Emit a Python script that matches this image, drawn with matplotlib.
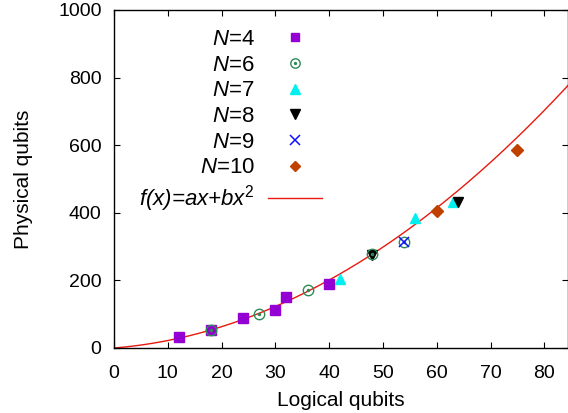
import numpy as np
import matplotlib
matplotlib.use("Agg")
import matplotlib.pyplot as plt
from matplotlib.legend_handler import HandlerTuple

plt.rcParams['font.family'] = ['Liberation Sans', 'DejaVu Sans']
plt.rcParams['mathtext.fontset'] = 'custom'
plt.rcParams['mathtext.rm'] = 'Liberation Sans'
plt.rcParams['mathtext.it'] = 'Liberation Sans:italic'

# data
x_n4 = [12, 18, 24, 30, 32, 40]
y_n4 = [33, 53, 90, 112, 152, 189]
x_n6 = [18, 27, 36, 48, 54]
y_n6 = [53, 100, 171, 277, 313]
x_n7 = [42, 56, 63]
y_n7 = [203, 384, 433]
x_n8 = [48, 64]
y_n8 = [276, 433]
x_n9 = [54]
y_n9 = [313]
x_n10 = [60, 75]
y_n10 = [406, 585]

# fit parameters of f(x) = a x + b x^2
a_fit = 1.27
b_fit = 0.094

x_ticks = [0, 10, 20, 30, 40, 50, 60, 70, 80]
y_ticks = [0, 200, 400, 600, 800, 1000]

fig = plt.figure(figsize=(5.68, 4.13), dpi=100)
ax = fig.add_axes([114 / 568, 1 - 348 / 413, (567.5 - 114) / 568, (348 - 10) / 413])

xf = np.linspace(0, 84.5, 300)
line_fit, = ax.plot(xf, a_fit * xf + b_fit * xf ** 2, color='#e8190f', lw=1.0, zorder=1)

h4, = ax.plot(x_n4, y_n4, ls='none', marker='s', ms=6.5, color='#9400d3', mec='#9400d3', zorder=3)
h6a, = ax.plot(x_n6, y_n6, ls='none', marker='o', ms=7.5, mfc='none', mec='#2e8b57', mew=1.0, zorder=4)
h6b, = ax.plot(x_n6, y_n6, ls='none', marker='o', ms=1.5, color='#2e8b57', zorder=4)
h7, = ax.plot(x_n7, y_n7, ls='none', marker='^', ms=7.5, color='#00f0f0', mec='#00f0f0', zorder=3)
h8, = ax.plot(x_n8, y_n8, ls='none', marker='v', ms=7.5, color='black', zorder=3)
h9, = ax.plot(x_n9, y_n9, ls='none', marker='x', ms=7.5, mew=1.1, color='#1010ff', zorder=5)
h10, = ax.plot(x_n10, y_n10, ls='none', marker='D', ms=6, color='#c04000', mec='#c04000', zorder=3)

ax.set_xlim(0, 84.3)
ax.set_ylim(0, 1000)
ax.set_xticks(x_ticks)
ax.set_yticks(y_ticks)
ax.tick_params(direction='in', top=True, right=True, length=4, width=0.8, labelsize=14)
ax.tick_params(axis='x', pad=12)
ax.tick_params(axis='y', pad=9)
for s in ax.spines.values():
    s.set_linewidth(1.0)

ax.set_xlabel('Logical qubits', fontsize=15, labelpad=7)
ax.set_ylabel('Physical qubits', fontsize=15, labelpad=18)

handles = [h4, (h6a, h6b), h7, h8, h9, h10, line_fit]
labels = [r'$N$=4', r'$N$=6', r'$N$=7', r'$N$=8', r'$N$=9', r'$N$=10',
          r'f(x)=ax+bx$^{2}$']
leg = ax.legend(handles, labels, markerfirst=False, frameon=False,
                fontsize=16, loc='upper right',
                bbox_to_anchor=(322 / 568, 1 - 29 / 413), bbox_transform=fig.transFigure,
                borderpad=0, borderaxespad=0,
                handlelength=2.45, handletextpad=0.58, labelspacing=0.21,
                numpoints=1, markerscale=0.9,
                handler_map={tuple: HandlerTuple(ndivide=1, pad=0)})
for t in leg.get_texts():
    t.set_ha('right')
leg.get_texts()[-1].set_fontstyle('italic')
leg._legend_box.align = 'right'

fig.savefig('out.png', dpi=100)
